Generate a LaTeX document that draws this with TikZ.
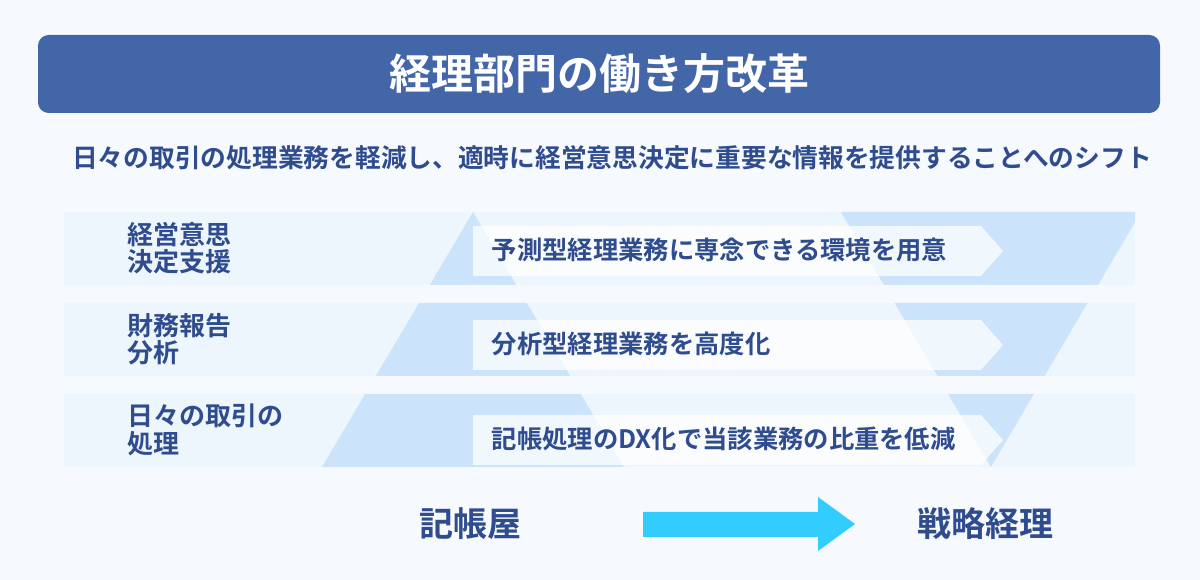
\documentclass[tikz,border=0pt]{standalone}
\usepackage{fontspec}
\setmainfont{Noto Sans CJK JP}[BoldFont={Noto Sans CJK JP Bold}]
\begin{document}
\begin{tikzpicture}[x=0.75pt,y=-0.75pt,
  txt/.style={text=navy,font=\bfseries}]
\definecolor{bg}{HTML}{F6F9FD}
\definecolor{navy}{HTML}{2E4C8E}
\definecolor{titlec}{HTML}{4366A8}
\definecolor{bandc}{HTML}{EEF6FD}
\definecolor{tric}{HTML}{CBE3FB}
\definecolor{cyanc}{HTML}{33CCFF}
\fill[bg] (0,0) rectangle (1200,580);
\useasboundingbox (0,0) rectangle (1200,580);
\fill[titlec,rounded corners=8pt] (38,35) rectangle (1160,113);
\node[text=white,font=\bfseries\fontsize{31.5}{36}\selectfont] (title) at (599,74) {経理部門の働き方改革};
\node[txt,font=\bfseries\fontsize{19.3}{23}\selectfont] (sub) at (612,158) {日々の取引の処理業務を軽減し、適時に経営意思決定に重要な情報を提供することへのシフト};
% bands
\foreach \y in {212,303,394}{\fill[bandc] (64,\y) rectangle (1135,\y+73);}
\begin{scope}
\clip (64,212) rectangle (1135,285) (64,303) rectangle (1135,376) (64,394) rectangle (1135,467);
\fill[tric] (473,212) -- (624,467) -- (322,467) -- cycle;
\fill[tric] (841,212) -- (1141,212) -- (991,467) -- cycle;
\end{scope}
\foreach \y/\t/\n in {226/予測型経理業務に専念できる環境を用意/a,320/分析型経理業務を高度化/b,415/記帳処理のDX化で当該業務の比重を低減/c}{
  \fill[white,fill opacity=0.72] (473,\y) -- (981,\y) -- (1003,\y+25) -- (981,\y+50) -- (473,\y+50) -- cycle;
  \node[txt,anchor=west,font=\bfseries\fontsize{19}{23}\selectfont] (box\n) at (487,\y+24) {\t};
}
\foreach \y/\t/\n in {248/経営意思\\決定支援/1,339/財務報告\\分析/2,430/日々の取引の\\処理/3}{
  \node[txt,anchor=west,align=left,font=\bfseries\fontsize{19.5}{20.5}\selectfont] (l\n) at (123,\y) {\t};
}
\node[txt,font=\bfseries\fontsize{25.5}{30}\selectfont] (k) at (470,524) {記帳屋};
\node[txt,font=\bfseries\fontsize{25.5}{30}\selectfont] (s) at (985,524) {戦略経理};
\fill[cyanc] (643,512) -- (818,512) -- (818,497) -- (855,524) -- (818,551) -- (818,537) -- (643,537) -- cycle;
\end{tikzpicture}
\end{document}
